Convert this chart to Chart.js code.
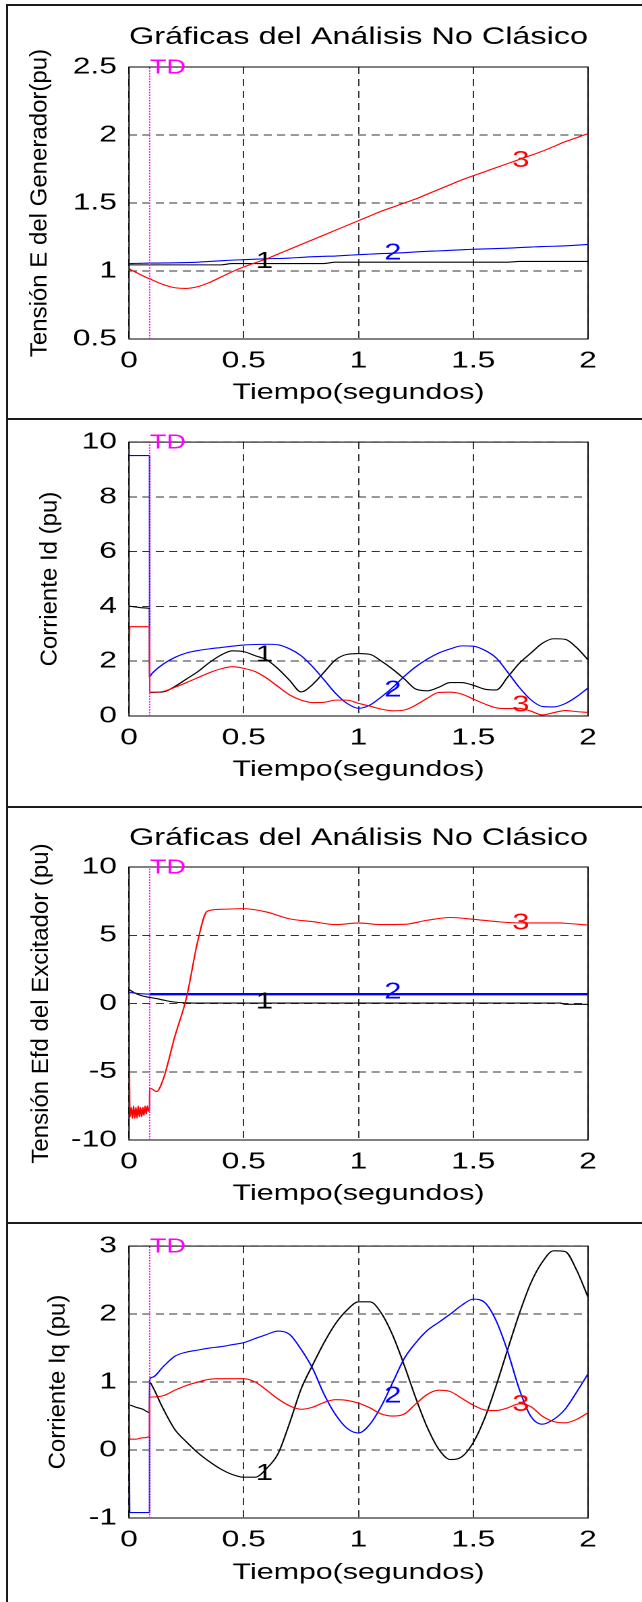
<!DOCTYPE html>
<html><head><meta charset="utf-8">
<script src="https://cdn.jsdelivr.net/npm/chart.js@4.4.1/dist/chart.umd.min.js"></script>
<style>
html,body{margin:0;padding:0;background:#fff;}
body{width:642px;height:1602px;position:relative;overflow:hidden;}
canvas{position:absolute;left:0;}
.ln{position:absolute;background:#1a1a1a;z-index:5;}
</style></head><body>
<canvas id="c1" width="476" height="414" style="top:5px;width:642px;height:414px"></canvas>
<canvas id="c2" width="476" height="388" style="top:419px;width:642px;height:388px"></canvas>
<canvas id="c3" width="476" height="416" style="top:807px;width:642px;height:416px"></canvas>
<canvas id="c4" width="476" height="379" style="top:1223px;width:642px;height:379px"></canvas>
<div class="ln" style="left:6px;top:4px;width:2px;height:1598px"></div>
<div class="ln" style="left:6px;top:4px;width:636px;height:2px"></div>
<div class="ln" style="left:6px;top:418px;width:636px;height:2px"></div>
<div class="ln" style="left:6px;top:806px;width:636px;height:2px"></div>
<div class="ln" style="left:6px;top:1222px;width:636px;height:2px"></div>
<script>
// ---------- data ----------
const TD = 0.09;
const xTicks = [0, 0.5, 1, 1.5, 2];
const yTicksE = [0.5, 1, 1.5, 2, 2.5];
const yTicksId = [0, 2, 4, 6, 8, 10];
const yTicksEfd = [-10, -5, 0, 5, 10];
const yTicksIq = [-1, 0, 1, 2, 3];

const tMain = [0,0.003,0.03,0.06,0.0895,0.09,0.1,0.15,0.2,0.25,0.3,0.35,0.4,0.45,0.5,0.55,0.6,0.65,0.7,0.75,0.8,0.85,0.9,0.95,1.0,1.05,1.1,1.15,1.2,1.25,1.3,1.35,1.4,1.45,1.5,1.55,1.6,1.65,1.7,1.75,1.8,1.85,1.9,1.95,2.0];
const tEfd = [0,0.004,0.01,0.015,0.02,0.025,0.03,0.035,0.04,0.045,0.05,0.055,0.06,0.065,0.07,0.075,0.08,0.085,0.0895,0.09,0.1,0.12,0.15,0.2,0.25,0.3,0.34,0.4,0.5,0.6,0.7,0.8,0.9,1.0,1.1,1.2,1.3,1.4,1.5,1.6,1.7,1.8,1.88,1.9,2.0];

// Tension E del generador
const E1 = [1.045,1.045,1.045,1.045,1.045,1.045,1.045,1.045,1.045,1.045,1.045,1.045,1.045,1.055,1.055,1.055,1.055,1.055,1.055,1.055,1.055,1.055,1.065,1.065,1.065,1.065,1.065,1.065,1.065,1.065,1.065,1.065,1.065,1.065,1.065,1.065,1.065,1.065,1.07,1.07,1.07,1.07,1.07,1.07,1.07];
const E2 = [1.055,1.055,1.056,1.057,1.058,1.058,1.058,1.059,1.06,1.062,1.065,1.07,1.075,1.08,1.083,1.087,1.09,1.092,1.095,1.1,1.105,1.108,1.11,1.115,1.12,1.124,1.128,1.131,1.135,1.14,1.145,1.148,1.152,1.156,1.16,1.162,1.165,1.168,1.172,1.176,1.18,1.182,1.185,1.19,1.195];
const E3 = [1.02,1.015,0.99,0.965,0.945,0.945,0.935,0.9,0.877,0.872,0.885,0.915,0.955,0.995,1.03,1.06,1.09,1.125,1.16,1.195,1.23,1.265,1.3,1.335,1.37,1.405,1.44,1.47,1.5,1.53,1.565,1.6,1.635,1.67,1.70,1.73,1.76,1.79,1.82,1.85,1.88,1.915,1.95,1.98,2.01];

// Corriente Id
const Id1 = [4.02,4.01,3.98,3.95,3.92,0.86,0.86,0.88,1.08,1.35,1.62,1.95,2.22,2.38,2.35,2.2,2.05,1.72,1.3,0.88,1.15,1.6,2.05,2.25,2.28,2.25,2.0,1.7,1.35,0.98,0.92,1.05,1.22,1.22,1.12,0.98,0.95,1.42,1.92,2.29,2.65,2.82,2.8,2.5,2.05];
const Id2 = [9.51,9.51,9.51,9.51,9.51,1.44,1.55,1.9,2.14,2.3,2.39,2.45,2.5,2.55,2.59,2.61,2.62,2.6,2.45,2.2,1.8,1.32,0.83,0.46,0.28,0.4,0.7,1.05,1.45,1.8,2.08,2.3,2.45,2.56,2.55,2.4,2.12,1.6,1.05,0.6,0.35,0.33,0.45,0.7,1.02];
const Id3 = [0.85,3.26,3.26,3.26,3.26,0.87,0.87,0.9,1.05,1.22,1.4,1.58,1.72,1.8,1.74,1.62,1.38,1.07,0.77,0.58,0.49,0.5,0.58,0.58,0.46,0.36,0.25,0.19,0.22,0.4,0.65,0.86,0.87,0.8,0.62,0.44,0.3,0.27,0.28,0.18,0.04,0.12,0.2,0.16,0.13];

// Tension Efd del excitador
const Efd1 = [1.0,0.98,0.92,0.87,0.82,0.77,0.73,0.69,0.66,0.63,0.6,0.57,0.55,0.53,0.51,0.49,0.47,0.46,0.45,0.45,0.42,0.36,0.25,0.1,0.05,0.03,0.03,0.03,0.03,0.03,0.03,0.03,0.03,0.03,0.03,0.03,0.03,0.03,0.03,0.03,0.03,0.03,0.03,-0.06,-0.06];
const Efd2 = [0.8,0.8,0.79,0.78,0.77,0.76,0.75,0.74,0.73,0.72,0.72,0.71,0.71,0.7,0.7,0.69,0.69,0.69,0.68,0.68,0.68,0.68,0.68,0.68,0.68,0.68,0.68,0.68,0.68,0.68,0.68,0.68,0.68,0.68,0.68,0.68,0.68,0.68,0.68,0.68,0.68,0.68,0.68,0.68,0.68];
const Efd3 = [0.9,-8.3,-7.6,-8.4,-7.5,-8.4,-7.6,-8.4,-7.5,-8.3,-7.6,-8.3,-7.6,-8.2,-7.5,-8.1,-7.5,-7.9,-7.6,-6.2,-6.25,-6.45,-5.5,-2.4,0.4,4.6,6.75,6.9,6.95,6.7,6.2,6.0,5.78,5.9,5.78,5.8,6.1,6.3,6.17,6.0,5.9,5.9,5.9,5.88,5.75];

// Corriente Iq
const Iq1 = [0.66,0.66,0.63,0.6,0.55,1.0,0.95,0.6,0.3,0.12,-0.04,-0.17,-0.28,-0.36,-0.4,-0.4,-0.27,-0.05,0.4,0.9,1.25,1.58,1.86,2.06,2.18,2.18,2.01,1.68,1.24,0.76,0.33,0.01,-0.14,-0.1,0.11,0.47,0.95,1.48,2.0,2.45,2.76,2.93,2.92,2.65,2.25];
const Iq2 = [1.47,-0.92,-0.92,-0.92,-0.92,1.03,1.07,1.23,1.38,1.44,1.47,1.5,1.52,1.55,1.58,1.64,1.7,1.75,1.7,1.48,1.2,0.82,0.52,0.32,0.25,0.38,0.65,1.0,1.35,1.58,1.76,1.88,2.0,2.13,2.22,2.17,1.9,1.45,0.9,0.5,0.38,0.45,0.6,0.85,1.12];
const Iq3 = [0.81,0.16,0.16,0.18,0.2,0.77,0.78,0.8,0.88,0.95,1.0,1.04,1.05,1.05,1.05,1.0,0.88,0.75,0.65,0.6,0.63,0.7,0.74,0.73,0.69,0.62,0.53,0.5,0.53,0.68,0.82,0.88,0.86,0.76,0.66,0.59,0.58,0.62,0.68,0.64,0.5,0.42,0.4,0.45,0.55];

// curve tags "1","2","3" (data coordinates)
const tagText = ['1', '2', '3'];
const tagX = [0.59, 1.15, 1.707];
const tagYE = [1.068, 1.13, 1.81];
const tagYId = [2.23, 0.95, 0.4];
const tagYEfd = [0.1, 0.84, 5.9];
const tagYIq = [-0.35, 0.79, 0.67];

const titleText = 'Gráficas del Análisis No Clásico';
const xTitleText = 'Tiempo(segundos)';
const yTitleE = 'Tensión E del Generador(pu)';
const yTitleId = 'Corriente Id (pu)';
const yTitleEfd = 'Tensión Efd del Excitador (pu)';
const yTitleIq = 'Corriente Iq (pu)';

// ---------- drawing ----------
const CW = 476;
const K = 642 / CW;
const FONT = "'Liberation Sans', Arial, Helvetica, sans-serif";
const PLOT_LEFT = 129 / K;
const RIGHT_PAD = CW - 588 / K;
const GRID = 'rgba(0,0,0,0.8)';
const COLORS = ['#000000', '#0000ff', '#ff0000'];

function makePanel(cfg) {
  const datasets = cfg.series.map((s, i) => ({
    data: s.t.map((x, j) => ({ x: x, y: s.v[j] })),
    borderColor: COLORS[i],
    borderWidth: 1.1,
    pointRadius: 0,
    fill: false,
    cubicInterpolationMode: 'monotone',
    order: 3 - i,
    segment: s.segment
  }));
  datasets.push({
    data: [{ x: TD, y: cfg.yTicks[0] }, { x: TD, y: cfg.yTicks[cfg.yTicks.length - 1] }],
    borderColor: '#ff00ff', borderWidth: 1, borderDash: [1.5, 1.2], pointRadius: 0, order: 0
  });

  const decor = {
    id: 'decor' + cfg.id,
    beforeDatasetsDraw(chart) {
      const a = chart.chartArea, ctx = chart.ctx;
      ctx.save();
      ctx.strokeStyle = '#000';
      ctx.lineWidth = 1;
      ctx.strokeRect(a.left, a.top, a.right - a.left, a.bottom - a.top);
      ctx.restore();
    },
    afterDatasetsDraw(chart) {
      const a = chart.chartArea, ctx = chart.ctx;
      const xs = chart.scales.x, ys = chart.scales.y;
      ctx.save();
      // TD label
      ctx.fillStyle = '#ff00ff';
      ctx.font = '20px ' + FONT;
      ctx.textAlign = 'left';
      ctx.textBaseline = 'middle';
      ctx.fillText('TD', xs.getPixelForValue(TD) + 0.2, a.top + 1);
      // curve tags
      ctx.font = '23px ' + FONT;
      ctx.textAlign = 'center';
      for (let i = 0; i < tagText.length; i++) {
        ctx.fillStyle = COLORS[i];
        ctx.fillText(tagText[i], xs.getPixelForValue(tagX[i]), ys.getPixelForValue(cfg.tagY[i]));
      }
      // y title (not stretched horizontally)
      ctx.fillStyle = '#000';
      ctx.font = '24px ' + FONT;
      ctx.translate(cfg.yTitleX / K, (a.top + a.bottom) / 2);
      ctx.scale(1 / K, 1);
      ctx.rotate(-Math.PI / 2);
      ctx.textAlign = 'center';
      ctx.textBaseline = 'middle';
      ctx.fillText(cfg.yTitle, 0, 0);
      ctx.restore();
    }
  };

  new Chart(document.getElementById(cfg.id), {
    type: 'line',
    data: { datasets },
    options: {
      responsive: false,
      animation: false,
      devicePixelRatio: 2,
      layout: { padding: { left: 0, right: RIGHT_PAD, top: cfg.padTop, bottom: 0 } },
      plugins: {
        legend: { display: false },
        tooltip: { enabled: false },
        title: cfg.title ? {
          display: true, text: titleText, fullSize: false, color: '#000',
          font: { family: FONT, size: 24.5, weight: 'normal' },
          padding: { top: cfg.titlePad[0], bottom: cfg.titlePad[1] }
        } : { display: false }
      },
      scales: {
        x: {
          type: 'linear', min: 0, max: 2,
          afterBuildTicks: s => { s.ticks = xTicks.map(v => ({ value: v })); },
          afterFit: s => { s.height = cfg.xH; },
          ticks: { font: { family: FONT, size: 23.5 }, color: '#000', padding: 8, maxRotation: 0, autoSkip: false, callback: v => String(v) },
          grid: { color: GRID, lineWidth: 1, drawTicks: false },
          border: { display: false, dash: [7, 5] },
          title: { display: true, text: xTitleText, color: '#000', font: { family: FONT, size: 22.5 }, padding: { top: 0, bottom: cfg.xTitlePad } }
        },
        y: {
          type: 'linear', min: cfg.yTicks[0], max: cfg.yTicks[cfg.yTicks.length - 1],
          afterBuildTicks: s => { s.ticks = cfg.yTicks.map(v => ({ value: v })); },
          afterFit: s => { s.width = PLOT_LEFT; },
          ticks: { font: { family: FONT, size: 23.5 }, color: '#000', padding: 9, autoSkip: false, callback: v => String(v) },
          grid: { color: GRID, lineWidth: 1, drawTicks: false },
          border: { display: false, dash: [6, 4] }
        }
      }
    },
    plugins: [decor]
  });
}

const thick = { borderWidth: c => (c.p0.parsed.x >= TD ? 2.4 : 1.1) };

makePanel({ id: 'c1', title: true, titlePad: [17.3, 15.3], padTop: 0, xH: 80, xTitlePad: 12.5,
  yTicks: yTicksE, yTitle: yTitleE, yTitleX: 40, tagY: tagYE,
  series: [{ t: tMain, v: E1 }, { t: tMain, v: E2 }, { t: tMain, v: E3 }] });
makePanel({ id: 'c2', title: false, padTop: 23, xH: 91, xTitlePad: 23.5,
  yTicks: yTicksId, yTitle: yTitleId, yTitleX: 50, tagY: tagYId,
  series: [{ t: tMain, v: Id1 }, { t: tMain, v: Id2 }, { t: tMain, v: Id3 }] });
makePanel({ id: 'c3', title: true, titlePad: [16.3, 14.3], padTop: 0, xH: 83, xTitlePad: 15.5,
  yTicks: yTicksEfd, yTitle: yTitleEfd, yTitleX: 41, tagY: tagYEfd,
  series: [{ t: tEfd, v: Efd1 }, { t: tEfd, v: Efd2, segment: thick }, { t: tEfd, v: Efd3 }] });
makePanel({ id: 'c4', title: false, padTop: 20, xH: 84, xTitlePad: 15.5,
  yTicks: yTicksIq, yTitle: yTitleIq, yTitleX: 58, tagY: tagYIq,
  series: [{ t: tMain, v: Iq1 }, { t: tMain, v: Iq2 }, { t: tMain, v: Iq3 }] });
</script>
</body></html>
